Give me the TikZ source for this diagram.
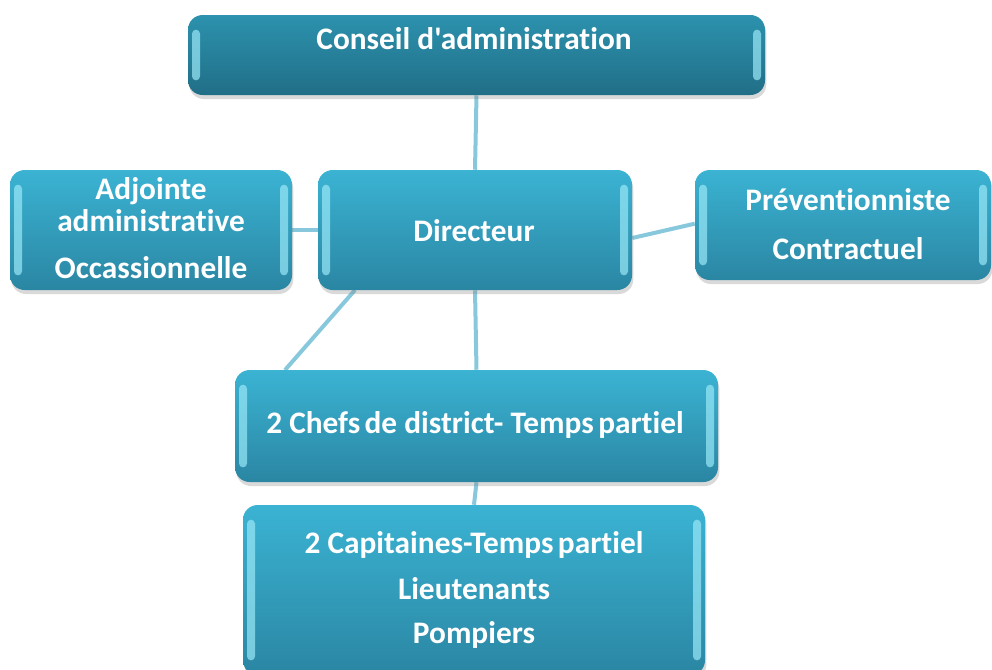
\documentclass[tikz,border=0pt]{standalone}
\usepackage{fontspec}
\newfontfamily\boxfont{Carlito}[Ligatures=NoCommon]
\usetikzlibrary{shadows,backgrounds}
\definecolor{linkblue}{HTML}{88C8DC}
\definecolor{boxtop}{HTML}{3BB3D3}
\definecolor{boxbot}{HTML}{2A86A3}
\definecolor{darktop}{HTML}{2C92AE}
\definecolor{darkbot}{HTML}{216E86}
\definecolor{shine}{HTML}{9AE8F7}
\tikzset{
  orgbox/.style={rectangle, rounded corners=11pt, draw=none,
    top color=boxtop, bottom color=boxbot,
    drop shadow={shadow xshift=1pt, shadow yshift=-3pt, opacity=0.3},
    path picture={
      \fill[shine, opacity=0.7, rounded corners=3pt]
        ([xshift=3pt,yshift=-11pt]path picture bounding box.north west)
        rectangle ([xshift=9pt,yshift=11pt]path picture bounding box.south west);
      \fill[shine, opacity=0.7, rounded corners=3pt]
        ([xshift=-3pt,yshift=-11pt]path picture bounding box.north east)
        rectangle ([xshift=-9pt,yshift=11pt]path picture bounding box.south east);
    }},
  darkbox/.style={orgbox, top color=darktop, bottom color=darkbot},
  boxtext/.style={anchor=base, text=white, inner sep=0pt,
    font=\boxfont\fontsize{23.5}{26}\selectfont\bfseries},
  link/.style={draw=linkblue, line width=3pt}
}
\begin{document}
\begin{tikzpicture}[x=0.75pt, y=-0.75pt]
\useasboundingbox (0,0) rectangle (992,669);
\clip (0,0) rectangle (992,669);

% boxes
\node[darkbox, minimum width=577*0.75pt, minimum height=80*0.75pt] (conseil) at (476.5,55) {};
\node[orgbox, minimum width=282*0.75pt, minimum height=120*0.75pt] (adjointe) at (151,230) {};
\node[orgbox, minimum width=314*0.75pt, minimum height=120*0.75pt] (directeur) at (475,230) {};
\node[orgbox, minimum width=296*0.75pt, minimum height=110*0.75pt] (prevent) at (843,225) {};
\node[orgbox, minimum width=483*0.75pt, minimum height=112*0.75pt] (chefs) at (476.5,426) {};
\node[orgbox, minimum width=462*0.75pt, minimum height=170*0.75pt] (capit) at (474,590) {};

% connectors, behind the boxes
\coordinate (dirSW) at (355,290);
\coordinate (chefsNW) at (285,370);
\begin{pgfonlayer}{background}
\path[link] (conseil.south) -- (directeur.north);
\path[link] (adjointe.east) -- (directeur.west);
\path[link] ([yshift=-6pt]directeur.east) -- ([yshift=1pt]prevent.west);
\path[link] (directeur.south) -- (chefs.north);
\path[link] (dirSW) -- (chefsNW);
\path[link] (chefs.south) -- (capit.north);
\end{pgfonlayer}

% text
\node[boxtext] (t1) at (474,49) {Conseil d'administration};
\node[boxtext] (t2) at (151,199) {Adjointe};
\node[boxtext] (t3) at (151,231) {administrative};
\node[boxtext] (t4) at (151,278) {Occassionnelle};
\node[boxtext] (t5) at (474,241) {Directeur};
\node[boxtext] (t6) at (848,210) {Préventionniste};
\node[boxtext] (t7) at (848,259) {Contractuel};
\node[boxtext] (t8) at (475,433) {2 Chefs\kern-2pt{} de district- Temps\kern-2pt{} partiel};
\node[boxtext] (t9) at (474,553) {2 Capitaines-Temps\kern-2pt{} partiel};
\node[boxtext] (t10) at (474,599) {Lieutenants};
\node[boxtext] (t11) at (474,643) {Pompiers};
\end{tikzpicture}
\end{document}
